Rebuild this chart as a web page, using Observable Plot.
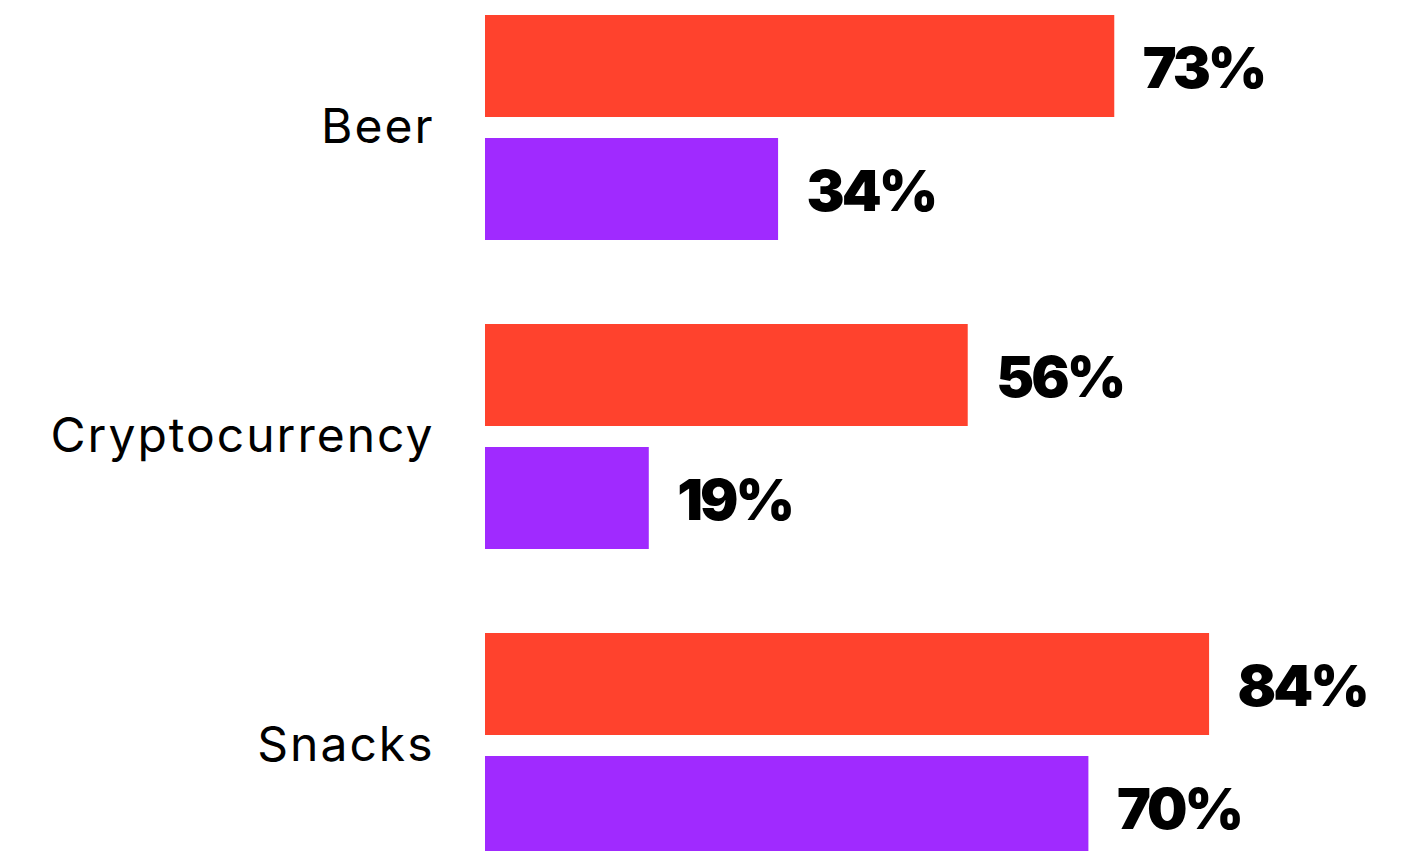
<!DOCTYPE html>
<html>
<head>
<meta charset="utf-8">
<script src="https://cdn.jsdelivr.net/npm/d3@7"></script>
<script src="https://cdn.jsdelivr.net/npm/@observablehq/plot@0.6"></script>
<style>
  html, body { margin: 0; padding: 0; background: #fff; overflow: hidden; }
</style>
</head>
<body>
<div id="chart"></div>
<script>
const categories = ["Beer", "Cryptocurrency", "Snacks"];
const seriesNames = ["Series A", "Series B"];
const seriesA = [73, 56, 84];
const seriesB = [34, 19, 70];
const colors = ["#FF422D", "#A02AFF"];

const data = [];
categories.forEach((c, i) => {
  data.push({category: c, series: seriesNames[0], value: seriesA[i]});
  data.push({category: c, series: seriesNames[1], value: seriesB[i]});
});

const chart = Plot.plot({
  width: 1404,
  height: 858,
  marginLeft: 485,
  marginRight: 57,
  marginTop: 15,
  marginBottom: 0,
  style: {fontFamily: "Inter, 'Noto Sans', sans-serif", background: "#fff"},
  x: {domain: [0, 100], axis: null},
  y: {domain: seriesNames, paddingInner: 21 / 123, paddingOuter: 0, axis: null},
  fy: {domain: categories, paddingInner: 84 / 309, paddingOuter: 0, axis: null, label: null},
  color: {domain: seriesNames, range: colors},
  marks: [
    Plot.barX(data, {x: "value", y: "series", fy: "category", fill: "series"}),
    Plot.text(data, {
      x: "value", y: "series", fy: "category",
      text: d => d.value + "%",
      textAnchor: "start", dx: 28, dy: 3,
      fontSize: 57, fontWeight: 900, fill: "#000"
    }),
    Plot.axisFy({
      anchor: "left", tickSize: 0, tickPadding: 51,
      fontSize: 48, fontWeight: 400, fill: "#000", label: null
    })
  ]
});
d3.select(chart).selectAll('g[aria-label="text"] text').style("letter-spacing", "-3px");
d3.select(chart).selectAll('g[aria-label="fy-axis tick label"] text').style("letter-spacing", "2px");
document.getElementById("chart").appendChild(chart);
</script>
</body>
</html>
